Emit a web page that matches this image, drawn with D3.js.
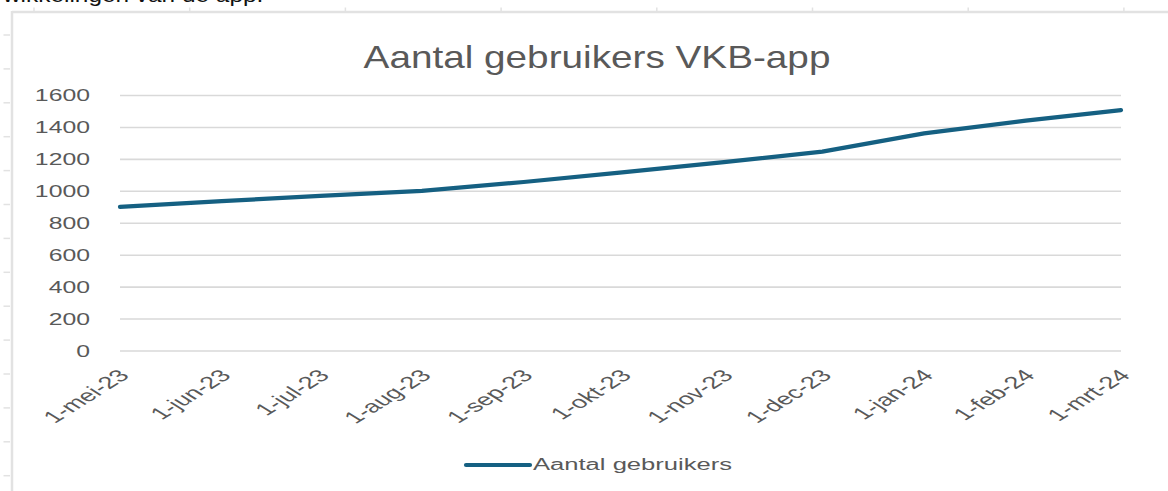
<!DOCTYPE html>
<html>
<head>
<meta charset="utf-8">
<script src="https://cdn.jsdelivr.net/npm/d3@7"></script>
<style>
  html, body { margin: 0; padding: 0; background: #fff; }
  svg { display: block; }
  text { font-family: "Liberation Sans", Arial, sans-serif; }
</style>
</head>
<body>
<svg id="chart" width="1168" height="491"></svg>
<script>
// ---- data ----
const monthDates = ["2023-05-01","2023-06-01","2023-07-01","2023-08-01","2023-09-01","2023-10-01",
                    "2023-11-01","2023-12-01","2024-01-01","2024-02-01","2024-03-01"];
const monthLabels = ["1-mei-23","1-jun-23","1-jul-23","1-aug-23","1-sep-23","1-okt-23",
                     "1-nov-23","1-dec-23","1-jan-24","1-feb-24","1-mrt-24"];
const users = [900, 935, 968, 1000, 1055, 1115, 1180, 1245, 1360, 1440, 1505];
const yTicks = [0, 200, 400, 600, 800, 1000, 1200, 1400, 1600];
const seriesName = "Aantal gebruikers";
const chartTitle = "Aantal gebruikers VKB-app";
const docText = "wikkelingen van de app.";

const parse = d3.timeParse("%Y-%m-%d");
const data = monthDates.map((d, i) => ({ date: parse(d), value: users[i], label: monthLabels[i] }));

const svg = d3.select("#chart");
const W = 1168, H = 491;
svg.append("rect").attr("width", W).attr("height", H).attr("fill", "#fff");

// document text cut at top
svg.append("text")
  .attr("transform", "translate(3,2) scale(1.22,1)")
  .attr("font-size", 20).attr("fill", "#111")
  .text(docText);

// chart frame (document chart border + handle ticks)
const frame = svg.append("g").attr("stroke", "#e2e2e2");
frame.append("line").attr("x1", 12).attr("x2", W).attr("y1", 12).attr("y2", 12).attr("stroke-width", 2.5);
frame.append("line").attr("x1", 12).attr("x2", 12).attr("y1", 11).attr("y2", H).attr("stroke-width", 2.5);
d3.range(0, 8).forEach(i => {
  const x = 34 + i * 155.7;
  frame.append("line").attr("x1", x).attr("x2", x).attr("y1", 7.5).attr("y2", 12).attr("stroke-width", 1.5);
});
d3.range(0, 14).forEach(i => {
  const y = 35 + i * 33.9;
  frame.append("line").attr("x1", 3.5).attr("x2", 10).attr("y1", y).attr("y2", y).attr("stroke-width", 1.5);
});

// scales
const x = d3.scaleTime().domain([data[0].date, data[data.length - 1].date]).range([120, 1121]);
const y = d3.scaleLinear().domain([0, 1600]).range([350.5, 95]);

// title
svg.append("text")
  .attr("transform", "translate(597,68) scale(1.21,1)")
  .attr("text-anchor", "middle")
  .attr("font-size", 32).attr("fill", "#595959")
  .text(chartTitle);

// gridlines + y labels
const yAxis = d3.axisLeft(y).tickValues(yTicks).tickSize(-(x.range()[1] - x.range()[0])).tickFormat(d3.format("d"));
const gy = svg.append("g").attr("transform", `translate(${x.range()[0]},0)`).call(yAxis);
gy.select(".domain").remove();
gy.selectAll(".tick line").attr("stroke", "#d9d9d9").attr("stroke-width", 1.6);
gy.selectAll(".tick text")
  .attr("x", 0).attr("dy", null).attr("y", 0)
  .attr("font-size", 16).attr("fill", "#595959")
  .attr("text-anchor", "end")
  .attr("transform", "translate(-30,5.5) scale(1.55,1)")
  .attr("font-family", "Liberation Sans, Arial, sans-serif");

// x axis labels
const xAxis = d3.axisBottom(x).tickValues(data.map(d => d.date)).tickSize(0)
  .tickFormat((d, i) => monthLabels[i]);
const gx = svg.append("g").attr("transform", `translate(0,${y(0)})`).call(xAxis);
gx.select(".domain").remove();
gx.selectAll(".tick text")
  .attr("x", 0).attr("y", 0).attr("dy", null)
  .attr("font-size", 17).attr("fill", "#595959")
  .attr("text-anchor", "end")
  .attr("font-family", "Liberation Sans, Arial, sans-serif")
  .attr("transform", "translate(10,26) scale(1.6,1) rotate(-45)");

// line
const line = d3.line().x(d => x(d.date)).y(d => y(d.value));
svg.append("path").datum(data)
  .attr("d", line)
  .attr("fill", "none").attr("stroke", "#156082").attr("stroke-width", 4.2)
  .attr("stroke-linecap", "round").attr("stroke-linejoin", "round");

// legend
const lg = svg.append("g");
lg.append("line").attr("x1", 466).attr("x2", 530).attr("y1", 465).attr("y2", 465)
  .attr("stroke", "#156082").attr("stroke-width", 4.2).attr("stroke-linecap", "round");
lg.append("text").attr("transform", "translate(533,470) scale(1.6,1)")
  .attr("font-size", 16).attr("fill", "#595959").text(seriesName);
</script>
</body>
</html>
